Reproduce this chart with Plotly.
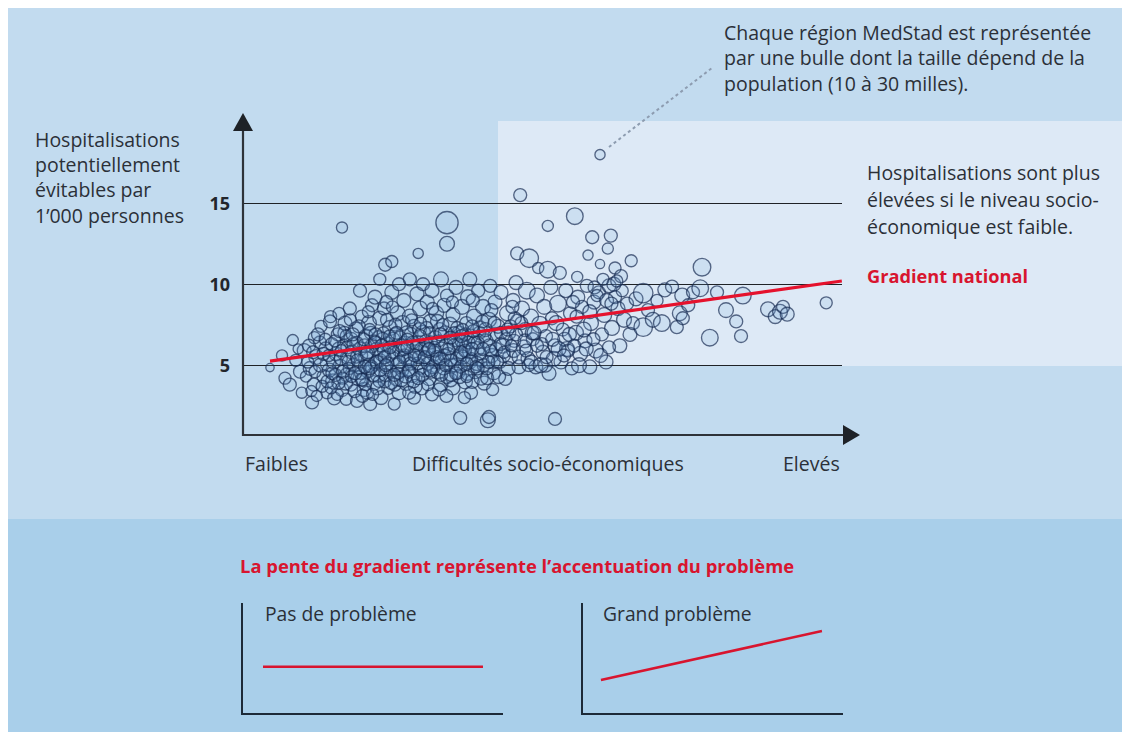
import plotly.graph_objects as go

W, H = 1130, 732
OFF = 8  # the page body margin shifts the figure by 8 px


def px(x):
    return (x - OFF) / W


def py(y):
    return 1 - (y - OFF) / H


# ---------------- data: MedStad regions (x = socio-economic difficulty index,
# y = avoidable hospitalisations per 1'000, pop = population in thousands)
xA = [4.5, 6.5, 7.0, 7.8, 8.3, 8.8, 9.5, 9.8, 10.2, 9.2]
yA = [4.85, 5.6, 4.2, 3.8, 6.55, 5.3, 4.6, 3.3, 5.9, 6.0]
pA = [9, 12, 13, 14, 12, 13, 14, 12, 15, 11]

xB = [11.5, 11.2, 11.8, 12.2, 12.8, 13.5, 13.0, 14.0, 14.2, 14.5, 13.8, 11.9, 14.6]
yB = [2.7, 4.8, 3.8, 5.5, 6.4, 4.3, 7.4, 3.3, 5.1, 7.7, 6.0, 6.7, 8.0]
pB = [14, 15, 14, 16, 14, 15, 13, 13, 17, 14, 15, 13, 13]

xC = [15.0, 15.2, 15.5, 15.8, 16.2, 16.5, 16.8, 17.0, 17.3, 17.5, 17.8, 17.2, 16.0, 18.0, 18.0]
yC = [4.0, 2.95, 5.7, 6.9, 4.9, 3.5, 6.2, 7.6, 4.4, 5.5, 8.5, 2.9, 8.2, 3.8, 6.6]
pC = [16, 14, 15, 14, 16, 15, 14, 15, 15, 16, 14, 13, 13, 14, 15]

xD = [18.5, 18.8, 19.0, 19.2, 19.5, 19.5, 19.8, 20.2, 20.5, 20.5, 20.8, 21.0, 21.2, 21.5, 21.8, 21.5, 22.0, 22.0]
yD = [5.0, 7.2, 2.8, 4.2, 6.0, 9.6, 8.0, 3.5, 5.4, 6.8, 4.6, 7.6, 2.6, 6.2, 3.9, 8.7, 5.1, 9.2]
pD = [15, 16, 14, 16, 15, 14, 14, 15, 16, 15, 14, 16, 14, 15, 16, 14, 15, 15]

xT = [23.7, 24.8, 22.8, 16.5, 29.2, 34.0, 34.0]
yT = [11.2, 11.4, 10.3, 13.5, 11.9, 13.8, 12.5]
pT = [14, 13, 13, 12, 11, 24, 16]

xE = [22.5, 22.6, 22.8, 23.0, 23.2, 23.5, 23.8, 24.0, 24.2, 24.5, 24.8, 25.0, 25.2, 25.5, 25.5, 25.8, 26.0, 26.0, 26.0]
yE = [4.4, 6.7, 7.9, 3.0, 5.7, 8.5, 4.9, 6.3, 3.6, 7.3, 9.5, 5.4, 2.6, 4.2, 6.9, 8.2, 5.9, 10.0, 3.3]
pE = [16, 15, 15, 15, 16, 14, 15, 16, 14, 16, 15, 15, 13, 16, 15, 16, 14, 14, 15]

xF = [26.5, 26.6, 26.8, 27.0, 27.2, 27.5, 27.8, 27.8, 28.0, 28.2, 28.5, 28.5, 28.8, 29.0, 29.2, 29.5, 29.5, 29.8, 30.0, 30.0]
yF = [4.7, 7.6, 9.0, 6.3, 3.9, 5.3, 8.0, 10.3, 6.9, 4.4, 3.0, 7.4, 5.8, 9.4, 6.4, 4.9, 8.5, 3.6, 7.0, 10.0]
pF = [15, 16, 15, 17, 16, 15, 16, 14, 15, 16, 14, 15, 16, 15, 15, 16, 16, 15, 16, 14]

xG = [30.3, 30.5, 30.7, 31.0, 31.2, 31.5, 31.5, 31.8, 32.0, 32.2, 32.5, 32.8, 33.0, 33.0, 33.2, 33.5, 33.8, 34.0, 34.0]
yG = [5.4, 6.0, 8.9, 4.2, 7.7, 3.2, 9.6, 5.7, 6.7, 8.2, 4.6, 7.2, 3.8, 10.3, 5.3, 8.7, 6.2, 9.3, 4.3]
pG = [15, 16, 15, 16, 15, 14, 15, 16, 15, 16, 16, 15, 15, 16, 15, 15, 16, 14, 15]

xHb = [34.5, 34.8, 35.0, 35.0, 35.3, 35.5, 35.8, 36.0, 36.2, 36.2, 36.5, 36.8, 37.0, 37.2, 37.5, 37.8, 37.8, 38.0, 38.0]
yHb = [7.5, 5.0, 3.6, 8.1, 6.6, 9.8, 4.6, 7.0, 1.75, 5.6, 8.6, 6.2, 4.0, 7.6, 9.2, 5.2, 10.3, 6.8, 3.3]
pHb = [16, 15, 15, 15, 16, 15, 16, 15, 14, 15, 16, 15, 16, 14, 16, 15, 15, 15, 14]

xI = [38.5, 38.7, 39.0, 39.2, 39.5, 39.8, 40.0, 40.2, 40.5, 40.8, 41.0, 41.0, 41.2, 41.5, 41.8, 42.0, 42.0]
yI = [8.0, 4.6, 6.0, 9.6, 7.3, 5.3, 8.6, 3.9, 6.5, 1.6, 1.8, 7.8, 9.9, 5.6, 4.5, 6.9, 8.9]
pI = [16, 15, 16, 14, 15, 15, 16, 15, 15, 16, 14, 16, 14, 15, 14, 15, 15]

xJ = [42.5, 42.8, 43.0, 43.3, 43.7, 44.0, 44.3, 44.5, 45.0, 45.2, 45.5, 45.8, 46.0, 46.2, 45.7]
yJ = [7.4, 5.2, 9.5, 6.2, 4.15, 8.2, 7.0, 5.5, 9.0, 6.5, 10.1, 7.7, 4.9, 15.5, 11.9]
pJ = [15, 14, 15, 16, 14, 16, 15, 16, 15, 14, 15, 16, 15, 14, 14]

xK = [46.5, 46.8, 47.0, 47.3, 47.7, 47.5, 48.0, 48.3, 48.8, 49.2, 49.0, 49.5, 50.0, 50.2, 50.5, 50.8, 50.8, 51.0, 51.3, 51.5, 52.0, 52.0]
yK = [8.5, 6.1, 7.2, 9.6, 11.6, 5.4, 8.0, 6.6, 4.9, 11.0, 9.3, 7.5, 5.8, 8.6, 6.8, 13.6, 10.9, 4.5, 9.8, 7.9, 1.68, 6.2]
pK = [16, 16, 15, 18, 20, 15, 16, 14, 15, 12, 16, 18, 15, 16, 14, 12, 18, 15, 15, 14, 14, 15]

xL = [52.8, 52.5, 53.0, 53.3, 53.8, 54.0, 54.5, 54.8, 55.3, 55.7, 55.5, 55.8, 56.2, 56.5, 57.0, 57.5, 57.3, 57.8, 58.2, 58.0]
yL = [10.7, 8.8, 5.2, 7.2, 9.6, 6.0, 8.2, 4.8, 14.2, 10.45, 7.0, 9.2, 5.7, 8.6, 6.5, 11.8, 9.9, 4.9, 12.9, 7.6]
pL = [14, 18, 15, 14, 15, 16, 14, 14, 18, 12, 16, 15, 16, 14, 15, 11, 14, 15, 14, 16]

xM = [58.5, 58.8, 59.5, 59.5, 59.3, 59.8, 60.2, 60.8, 60.5, 61.3, 61.0, 61.5, 62.0, 62.0, 62.5, 62.8, 63.2, 63.5, 64.0, 64.7, 64.5, 65.0, 65.5]
yM = [8.9, 5.9, 18.0, 11.25, 9.5, 6.9, 8.1, 12.2, 5.2, 13.0, 9.9, 7.3, 11.0, 9.2, 8.5, 6.2, 9.6, 7.8, 8.8, 11.45, 6.9, 7.6, 9.1]
pM = [15, 16, 11, 10, 14, 14, 16, 12, 15, 14, 15, 16, 13, 14, 15, 15, 13, 16, 14, 13, 15, 14, 15]

xN = [66.7, 66.7, 67.5, 68.3, 69.0, 69.8, 70.3, 71.5, 72.3, 72.8, 73.2, 73.3, 74.2, 75.0, 76.2, 76.5, 77.8, 79.0]
yN = [9.45, 7.35, 8.4, 7.8, 9.0, 7.6, 9.65, 9.85, 7.35, 8.2, 9.3, 7.9, 8.7, 9.5, 9.75, 11.05, 6.7, 9.5]
pN = [21, 20, 14, 16, 13, 18, 15, 14, 14, 16, 16, 14, 14, 14, 18, 19, 18, 14]

xO = [80.5, 82.2, 83.0, 83.3, 87.5, 88.7, 89.5, 90.0, 90.7, 97.2]
yO = [8.4, 7.7, 6.8, 9.3, 8.45, 8.0, 8.3, 8.6, 8.15, 8.85]
pO = [16, 14, 14, 18, 16, 15, 16, 14, 15, 13]

# denser core of the cloud
xP = [10.5, 10.8, 11.0, 11.4, 11.7, 12.0, 12.3, 12.5, 12.9, 13.2, 13.4, 13.7, 14.1, 14.4, 14.8,
      15.1, 15.4, 15.7, 16.0, 16.3, 16.6, 16.9, 17.1, 17.4, 17.7, 18.2, 18.6, 19.0, 19.4, 19.7]
yP = [4.3, 5.2, 6.2, 3.4, 5.8, 4.6, 3.1, 6.9, 5.0, 3.7, 5.7, 6.6, 4.0, 4.7, 6.3,
      5.2, 4.4, 3.2, 6.0, 5.4, 4.2, 7.0, 3.9, 6.1, 4.8, 5.8, 3.4, 6.4, 4.9, 5.6]
pP = [12, 13, 14, 12, 14, 13, 12, 14, 15, 13, 14, 13, 14, 15, 14,
      15, 14, 13, 15, 14, 13, 14, 15, 14, 13, 15, 14, 13, 15, 14]

xQ = [20.0, 20.3, 20.7, 21.0, 21.3, 21.7, 22.2, 22.4, 22.9, 23.3, 23.6, 24.0, 24.3, 24.6, 25.0,
      25.3, 25.7, 26.2, 26.4, 26.9, 27.3, 27.6, 28.0, 28.3, 28.7, 29.1, 29.4, 29.7, 20.9, 23.9]
yQ = [4.1, 6.2, 3.3, 5.0, 7.0, 4.4, 6.0, 3.6, 5.3, 6.6, 4.0, 7.8, 5.6, 4.6, 6.6,
      3.8, 5.0, 6.7, 4.1, 5.6, 7.0, 4.7, 5.4, 6.4, 3.7, 5.1, 7.2, 6.0, 8.3, 8.9]
pQ = [14, 15, 14, 15, 14, 15, 14, 15, 14, 15, 14, 14, 15, 14, 15,
      14, 15, 14, 15, 14, 15, 14, 15, 14, 15, 14, 15, 14, 13, 14]

xR = [30.2, 30.6, 30.9, 31.3, 31.7, 32.1, 32.4, 32.7, 33.1, 33.4, 33.7, 34.2, 34.6, 35.1, 35.4,
      35.7, 36.1, 36.4, 36.7, 37.1, 37.4, 37.7, 38.2, 38.6, 39.0, 39.4, 39.7, 30.8, 33.9, 36.9]
yR = [4.7, 7.3, 5.9, 6.4, 4.9, 5.2, 7.7, 3.5, 6.0, 4.8, 7.0, 5.7, 4.1, 6.2, 5.0,
      7.3, 4.3, 6.5, 5.5, 6.9, 4.5, 5.8, 4.0, 6.4, 5.1, 7.0, 4.2, 3.8, 3.1, 3.0]
pR = [15, 14, 15, 14, 15, 14, 15, 14, 15, 14, 15, 14, 15, 14, 15,
      14, 15, 14, 15, 14, 15, 14, 15, 14, 15, 14, 15, 13, 14, 13]

xS = [40.1, 40.4, 40.7, 41.1, 41.4, 41.7, 42.2, 42.6, 43.0, 43.4, 43.8, 44.2, 44.6, 45.1, 45.5,
      46.0, 46.4, 47.0, 47.6, 48.2]
yS = [5.0, 7.2, 4.2, 6.2, 8.4, 5.2, 6.0, 4.3, 7.0, 5.6, 6.6, 4.8, 7.4, 5.9, 6.9,
      5.5, 7.6, 6.5, 5.0, 7.0]
pS = [14, 15, 14, 15, 14, 15, 14, 15, 14, 15, 14, 15, 14, 15, 14,
      15, 14, 15, 14, 15]

xU = [48.5, 49.8, 51.8, 53.6, 55.0, 56.8, 58.6, 60.0, 61.8, 63.0, 59.0, 60.6, 61.4, 62.3, 54.2, 50.4]
yU = [7.0, 6.3, 5.4, 6.6, 8.9, 7.2, 9.8, 10.3, 10.0, 10.5, 9.3, 9.0, 8.8, 10.2, 5.9, 5.0]
pU = [15, 14, 16, 15, 14, 16, 14, 13, 15, 14, 13, 15, 14, 13, 14, 15]

xV = [14.3, 14.9, 15.3, 15.9, 16.4, 16.7, 17.2, 17.6, 18.1, 18.4, 18.9, 19.3, 19.6, 20.1, 20.4,
      20.8, 21.1, 21.4, 21.9, 22.3, 22.7, 23.1, 23.4, 23.7, 14.7, 16.1, 17.9, 19.9, 21.6, 23.5]
yV = [5.6, 4.5, 6.5, 3.9, 5.9, 4.6, 6.8, 5.2, 4.3, 6.3, 5.5, 7.4, 4.5, 6.6, 3.8,
      5.8, 7.2, 4.9, 6.5, 5.2, 4.0, 6.2, 7.0, 4.4, 3.6, 7.1, 7.8, 3.1, 3.2, 5.9]
pV = [13, 14, 13, 14, 13, 14, 13, 14, 13, 14, 13, 14, 13, 14, 13,
      14, 13, 14, 13, 14, 13, 14, 13, 14, 13, 14, 13, 14, 13, 14]

xW = [24.1, 24.4, 24.7, 25.1, 25.4, 25.9, 26.3, 26.7, 27.1, 27.4, 27.9, 28.1, 28.4, 28.9, 29.3,
      29.6, 29.9, 30.4, 30.8, 31.1, 31.4, 31.9, 32.3, 32.6, 33.0, 33.3, 33.6, 24.9, 27.7, 31.6]
yW = [5.1, 6.8, 3.9, 5.8, 7.5, 4.5, 6.2, 5.5, 4.3, 6.6, 5.1, 7.8, 4.0, 6.2, 5.5,
      7.6, 4.4, 6.5, 5.1, 7.0, 4.6, 6.1, 5.5, 6.5, 4.4, 7.5, 5.6, 8.6, 3.3, 8.5]
pW = [14, 13, 14, 13, 14, 13, 14, 13, 14, 13, 14, 13, 14, 13, 14,
      13, 14, 13, 14, 13, 14, 13, 14, 13, 14, 13, 14, 13, 14, 13]

xX2 = [34.3, 34.7, 35.2, 35.6, 35.9, 36.3, 36.6, 37.0, 37.3, 37.6, 38.1, 38.4, 38.8, 39.1, 39.6,
       39.9, 40.3, 40.6, 41.3, 41.9, 42.4, 42.9, 43.5, 44.1, 44.7, 45.3, 34.9, 38.3, 41.6, 44.9]
yX2 = [6.0, 4.4, 7.0, 5.4, 6.3, 4.9, 7.2, 5.9, 4.3, 6.4, 5.4, 7.1, 4.9, 6.4, 5.7,
       7.7, 6.8, 4.8, 5.9, 7.6, 5.2, 6.3, 5.8, 7.2, 6.2, 7.9, 8.9, 9.0, 3.5, 8.6]
pX2 = [13, 14, 13, 14, 13, 14, 13, 14, 13, 14, 13, 14, 13, 14, 13,
       14, 13, 14, 13, 14, 13, 14, 13, 14, 13, 14, 13, 14, 13, 14]

xY3 = [18.3, 19.1, 19.8, 20.6, 21.2, 22.1, 22.9, 23.6, 24.5, 25.2, 26.1, 26.9, 27.7, 28.6, 29.5,
       30.3, 31.2, 32.0, 32.9, 33.8, 34.6, 35.5, 36.4, 37.3, 38.2, 39.1, 40.0, 40.9, 18.7, 20.3,
       22.0, 23.8, 25.6, 27.4, 29.2, 31.0, 32.8, 34.6, 36.4, 38.2]
yY3 = [6.9, 5.3, 4.1, 5.7, 4.8, 6.9, 4.7, 5.5, 6.1, 4.4, 5.2, 6.0, 4.6, 5.6, 6.8,
       5.5, 4.7, 5.9, 6.9, 5.0, 6.7, 4.5, 5.8, 5.1, 6.0, 4.8, 6.0, 5.2, 4.5, 4.9,
       6.4, 5.0, 7.0, 6.1, 4.2, 6.0, 5.4, 5.3, 6.8, 7.4]
pY3 = [14, 14, 14, 14, 14, 14, 14, 14, 14, 14, 14, 14, 14, 14, 14,
       14, 14, 14, 14, 14, 14, 14, 14, 14, 14, 14, 14, 14, 14, 14,
       14, 14, 14, 14, 14, 14, 14, 14, 14, 14]

xZ = [47.2, 48.0, 49.0, 49.6, 50.6, 51.6, 52.6, 53.5, 54.4, 55.2, 56.0, 57.2, 58.4, 59.6, 61.0,
      52.2, 55.6, 57.8]
yZ = [5.9, 5.2, 6.2, 5.0, 5.5, 6.6, 6.0, 5.6, 6.9, 6.2, 5.0, 6.0, 6.6, 5.6, 6.1,
      7.6, 8.0, 8.3]
pZ = [14, 15, 14, 16, 14, 15, 16, 14, 15, 14, 16, 15, 14, 15, 14,
      16, 14, 15]

# national gradient (regression line)
grad_x = [4.5, 99.8]
grad_y = [5.25, 10.2]

# y axis ticks
y_ticks = [5, 10, 15]
y_ticktext = ["5", "10", "15"]

# small explanatory charts
mini_flat_x = [0.077, 0.923]
mini_flat_y = [0.42, 0.42]
mini_steep_x = [0.069, 0.919]
mini_steep_y = [0.30, 0.745]

bands = [(xA, yA, pA), (xB, yB, pB), (xC, yC, pC), (xD, yD, pD), (xT, yT, pT),
         (xE, yE, pE), (xF, yF, pF), (xG, yG, pG), (xHb, yHb, pHb), (xI, yI, pI),
         (xJ, yJ, pJ), (xK, yK, pK), (xL, yL, pL), (xM, yM, pM), (xN, yN, pN),
         (xO, yO, pO), (xP, yP, pP), (xQ, yQ, pQ), (xR, yR, pR), (xS, yS, pS),
         (xU, yU, pU), (xV, yV, pV), (xW, yW, pW), (xX2, yX2, pX2), (xY3, yY3, pY3),
         (xZ, yZ, pZ)]
X, Y, P = [], [], []
for bx, by, bp in bands:
    n = min(len(bx), len(by), len(bp))
    X += bx[:n]
    Y += by[:n]
    P += bp[:n]

TXT = "#2b3038"
RED = "#d8152f"
FONT = "Open Sans"

fig = go.Figure()

fig.add_trace(go.Scatter(
    x=X, y=Y, mode="markers", cliponaxis=False, hoverinfo="skip",
    marker=dict(size=P, sizemode="diameter", sizeref=1.08,
                color="rgba(120,170,220,0.22)",
                line=dict(color="#182d54", width=1.35)),
    showlegend=False))

fig.add_trace(go.Scatter(
    x=grad_x, y=grad_y, mode="lines", cliponaxis=False,
    line=dict(color="#e5122d", width=3.2), showlegend=False, hoverinfo="skip"))

fig.add_trace(go.Scatter(
    x=mini_flat_x, y=mini_flat_y, mode="lines", xaxis="x2", yaxis="y2",
    line=dict(color=RED, width=2.5), showlegend=False, hoverinfo="skip"))
fig.add_trace(go.Scatter(
    x=mini_steep_x, y=mini_steep_y, mode="lines", xaxis="x3", yaxis="y3",
    line=dict(color=RED, width=2.5), showlegend=False, hoverinfo="skip"))

shapes = [
    dict(type="rect", xref="paper", yref="paper", x0=0, x1=1, y0=0, y1=py(519),
         fillcolor="#a9cfea", line=dict(width=0), layer="below"),
    dict(type="rect", xref="paper", yref="paper", x0=px(498), x1=1, y0=py(366), y1=py(121),
         fillcolor="#dde9f6", line=dict(width=0), layer="below"),
    # axes with arrows
    dict(type="line", xref="paper", yref="paper", x0=px(243), x1=px(243), y0=py(436), y1=py(128),
         line=dict(color="#2e3339", width=2.2)),
    dict(type="path", xref="paper", yref="paper",
         path=f"M {px(233)},{py(131)} L {px(243)},{py(113)} L {px(253)},{py(131)} Z",
         fillcolor="#1e2227", line=dict(width=0)),
    dict(type="line", xref="paper", yref="paper", x0=px(242), x1=px(846), y0=py(435), y1=py(435),
         line=dict(color="#2e3339", width=2.2)),
    dict(type="path", xref="paper", yref="paper",
         path=f"M {px(843)},{py(425)} L {px(860)},{py(435)} L {px(843)},{py(445)} Z",
         fillcolor="#1e2227", line=dict(width=0)),
    # dotted leader
    dict(type="line", xref="paper", yref="paper", x0=px(609), x1=px(712), y0=py(147), y1=py(68),
         line=dict(color="#8d9cb0", width=2, dash="dot")),
]

ann = []


def text(x, y, s, size=17, color=TXT, anchor="left", weight="normal"):
    ann.append(dict(x=px(x), y=py(y), xref="paper", yref="paper", text=s, showarrow=False,
                    xanchor=anchor, yanchor="middle",
                    font=dict(family=FONT, size=size, color=color, weight=weight)))


for i, s in enumerate(["Chaque région MedStad est représentée",
                       "par une bulle dont la taille dépend de la",
                       "population (10 à 30 milles)."]):
    text(722, 33 + 25 * i, s, size=19.5)

for i, s in enumerate(["Hospitalisations", "potentiellement", "évitables par", "1’000 personnes"]):
    text(33, 140 + 25 * i, s, size=19.5)

for i, s in enumerate(["Hospitalisations sont plus", "élevées si le niveau socio-",
                       "économique est faible."]):
    text(865, 173 + 26.5 * i, s, size=19.5)
text(865, 276, "Gradient national", size=18.2, color=RED, weight="bold")

text(243, 463, "Faibles", size=19.5)
text(410, 463, "Difficultés socio-économiques", size=19.5)
text(842, 463, "Elevés", size=19.5, anchor="right")

text(238, 565, "La pente du gradient représente l’accentuation du problème", size=18.4,
     color=RED, weight="bold")
text(263, 613, "Pas de problème", size=19.3)
text(601, 613, "Grand problème", size=19.3)

mini_axis = dict(range=[0, 1], showgrid=False, zeroline=False, showticklabels=False,
                 ticks="", showline=True, linecolor="#1d2a38", linewidth=2.2, fixedrange=True)

fig.update_layout(
    width=W, height=H, margin=dict(l=0, r=0, t=0, b=0, pad=0),
    paper_bgcolor="#c2dbef", plot_bgcolor="rgba(0,0,0,0)",
    shapes=shapes, annotations=ann,
    xaxis=dict(domain=[px(243), px(842)], range=[0, 99.83], showgrid=False, zeroline=False,
               showticklabels=False, showline=False, fixedrange=True),
    yaxis=dict(domain=[py(435), py(113)], range=[0.69, 20.57], tickvals=y_ticks,
               ticktext=y_ticktext, showgrid=True, gridcolor="#1f2226", gridwidth=1.4,
               zeroline=False, showline=False, ticks="", ticklabelstandoff=12,
               tickfont=dict(family=FONT, size=18, color="#22262c", weight="bold"),
               fixedrange=True),
    xaxis2=dict(domain=[px(243), px(503)], anchor="y2", **mini_axis),
    yaxis2=dict(domain=[py(713), py(603)], anchor="x2", **mini_axis),
    xaxis3=dict(domain=[px(583), px(843)], anchor="y3", **mini_axis),
    yaxis3=dict(domain=[py(713), py(603)], anchor="x3", **mini_axis),
    font=dict(family=FONT, color=TXT),
)

fig.write_html("out.html")
